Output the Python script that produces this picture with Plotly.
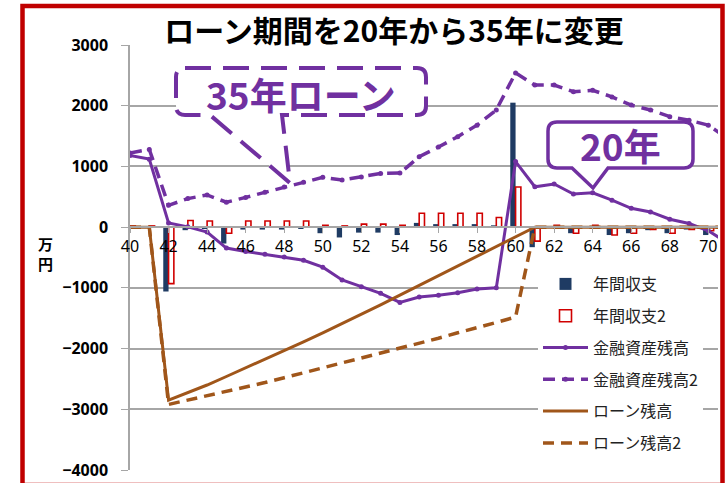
import plotly.graph_objects as go

# ---------------- data ----------------
ages = list(range(40, 72))
annual = [0, 0, -1060, -50, -30, -270, -40, -40, -40, -30, -100, -170, -90, -90, -130,
          70, 50, 50, 50, 30, 2050, -330, 0, -100, 0, -130, -100, -50, -100, -40, -130, -100]
annual2 = [20, 20, -930, 110, 100, -100, 100, 100, 100, 100, 30, 20, 50, 50, 30,
           230, 230, 230, 230, 160, 660, -230, 30, -100, 30, -130, -100, -40, -100, -40, -60, -50]
assets = [1180, 1120, 70, 5, -80, -345, -400, -445, -490, -545, -660, -870, -980, -1090, -1240,
          -1150, -1120, -1080, -1020, -1000, 1080, 665, 710, 545, 565, 445, 310, 250, 130, 60, -60, -260]
assets2 = [1220, 1280, 360, 470, 530, 410, 490, 575, 660, 740, 820, 775, 825, 885, 890,
           1160, 1320, 1490, 1680, 1930, 2540, 2340, 2340, 2230, 2255, 2145, 2010, 1930, 1820, 1760, 1680, 1460]
loan = [0, 0, -2850, -2730, -2600, -2460, -2320, -2180, -2040, -1890, -1740, -1590, -1430, -1280, -1120,
        -960, -800, -640, -480, -320, -160, 0, 0, 0, 0, 0, 0, 0, 0, 0, 0, 0]
loan2 = [0, 0, -2920, -2850, -2780, -2710, -2630, -2560, -2480, -2400, -2320, -2240, -2160, -2080, -2000,
         -1910, -1830, -1740, -1660, -1570, -1480, 0, 0, 0, 0, 0, 0, 0, 0, 0, 0, 0]

names = ["年間収支", "年間収支2", "金融資産残高", "金融資産残高2", "ローン残高", "ローン残高2"]
title_text = "ローン期間を20年から35年に変更"
y_unit = "万<br>円"
callout1 = "35年ローン"
callout2 = "20年"

NAVY = "#1F3B63"
RED = "#D00000"
PURPLE = "#7030A0"
BROWN = "#A0561A"
GRID = "#A6A6A6"
JP = "Noto Sans CJK JP"

fig = go.Figure()
fig.add_trace(go.Bar(x=ages, y=annual, name=names[0], legendgroup="g1",
                     marker=dict(color=NAVY, line=dict(width=0))))
fig.add_trace(go.Bar(x=ages, y=annual2, name=names[1], legendgroup="g2",
                     marker=dict(color="rgba(255,255,255,0)", line=dict(color=RED, width=1.6))))
fig.add_trace(go.Scatter(x=ages, y=assets, name=names[2], legendgroup="g3", mode="lines+markers",
                         line=dict(color=PURPLE, width=3), marker=dict(size=5, color=PURPLE)))
fig.add_trace(go.Scatter(x=ages, y=assets2, name=names[3], legendgroup="g4", mode="lines+markers",
                         line=dict(color=PURPLE, width=3.5, dash="12px,7px"), marker=dict(size=5, color=PURPLE)))
fig.add_trace(go.Scatter(x=ages, y=loan, name=names[4], legendgroup="g5", mode="lines",
                         line=dict(color=BROWN, width=3)))
fig.add_trace(go.Scatter(x=ages, y=loan2, name=names[5], legendgroup="g6", mode="lines",
                         line=dict(color=BROWN, width=3.5, dash="11px,7px")))

# plot-area pixel geometry (layout only)
W, H = 728, 483
L, R, T, B = 130, 718, 45, 470


def px(x, y):
    return (x - L) / (R - L), (B - y) / (B - T)


def path(points):
    s = ""
    for i, item in enumerate(points):
        if item[0] == "Q":
            c = px(item[1], item[2])
            e = px(item[3], item[4])
            s += f" Q {c[0]:.5f},{c[1]:.5f} {e[0]:.5f},{e[1]:.5f}"
        else:
            p = px(item[0], item[1])
            s += (" M " if i == 0 else " L ") + f"{p[0]:.5f},{p[1]:.5f}"
    return s + " Z"


def callout(x0, x1, y0, y1, r, base_r, tip, base_l):
    return path([(x0 + r, y0), (x1 - r, y0), ("Q", x1, y0, x1, y0 + r), (x1, y1 - r),
                 ("Q", x1, y1, x1 - r, y1), (base_r, y1), tip, (base_l, y1), (x0 + r, y1),
                 ("Q", x0, y1, x0, y1 - r), (x0, y0 + r), ("Q", x0, y0, x0 + r, y0)])


shapes = [
    dict(type="path", xref="paper", yref="paper",
         path=callout(176, 426, 68, 115, 9, 282, (290, 183), 210),
         line=dict(color=PURPLE, width=4, dash="26px,12px"), fillcolor="white", layer="above"),
    dict(type="path", xref="paper", yref="paper",
         path=callout(548, 693, 122, 168, 9, 608, (593, 188), 572),
         line=dict(color=PURPLE, width=3.5), fillcolor="white", layer="above"),
]
bx0, by0 = px(22.5, 6)
bx1, by1 = px(722.5, 485)
shapes.append(dict(type="rect", xref="paper", yref="paper", x0=bx0, y0=by1, x1=bx1, y1=by0,
                   line=dict(color="#C00000", width=4.5), fillcolor="rgba(0,0,0,0)", layer="above"))

ax1 = px(301, 94)
ax2 = px(620, 145)
au = px(45, 253)
annotations = [
    dict(text=callout1, x=ax1[0], y=ax1[1], xref="paper", yref="paper", showarrow=False,
         xanchor="center", yanchor="middle",
         font=dict(family=JP, size=37, color=PURPLE, weight="bold")),
    dict(text=callout2, x=ax2[0], y=ax2[1], xref="paper", yref="paper", showarrow=False,
         xanchor="center", yanchor="middle",
         font=dict(family=JP, size=37, color=PURPLE, weight="bold")),
    dict(text=y_unit, x=au[0], y=au[1], xref="paper", yref="paper", showarrow=False,
         xanchor="center", yanchor="middle",
         font=dict(family=JP, size=15, color="black", weight="bold")),
]

lx, ly = px(538, 267)
fig.update_layout(
    width=W, height=H, autosize=False,
    margin=dict(l=L, r=W - R, t=T, b=H - B, pad=0),
    paper_bgcolor="white", plot_bgcolor="white",
    title=dict(text=title_text, x=394 / W, xanchor="center", y=1 - 31 / H, yanchor="middle",
               font=dict(family=JP, size=30, color="black", weight="bold")),
    barmode="group", bargap=0.45, bargroupgap=0,
    showlegend=True,
    legend=dict(x=lx, y=ly, xanchor="left", yanchor="top", bgcolor="white",
                font=dict(family=JP, size=16, color="#222"), tracegroupgap=8,
                itemwidth=45, traceorder="grouped"),
    xaxis=dict(range=[40, 70.5], tick0=40, dtick=2, anchor="free", position=4 / 7,
               showline=True, linecolor=GRID, linewidth=1.5, ticks="outside", ticklen=5,
               tickcolor=GRID, showgrid=False, zeroline=False, automargin=False,
               tickfont=dict(family="Noto Sans", size=16, color="black")),
    yaxis=dict(range=[-4000, 3000], dtick=1000, showgrid=True, gridcolor=GRID, gridwidth=1.5,
               showline=True, linecolor=GRID, linewidth=1.5, ticks="outside", ticklen=7,
               tickcolor=GRID, zeroline=False, ticklabelstandoff=10, automargin=False,
               ticklabeloverflow="allow",
               tickfont=dict(family="Noto Sans", size=16, color="black", weight="bold")),
    shapes=shapes,
    annotations=annotations,
)

fig.write_html("out.html",
               config={"displayModeBar": False, "responsive": False},
               post_script="document.body.style.margin='0';document.body.style.overflow='hidden';")
